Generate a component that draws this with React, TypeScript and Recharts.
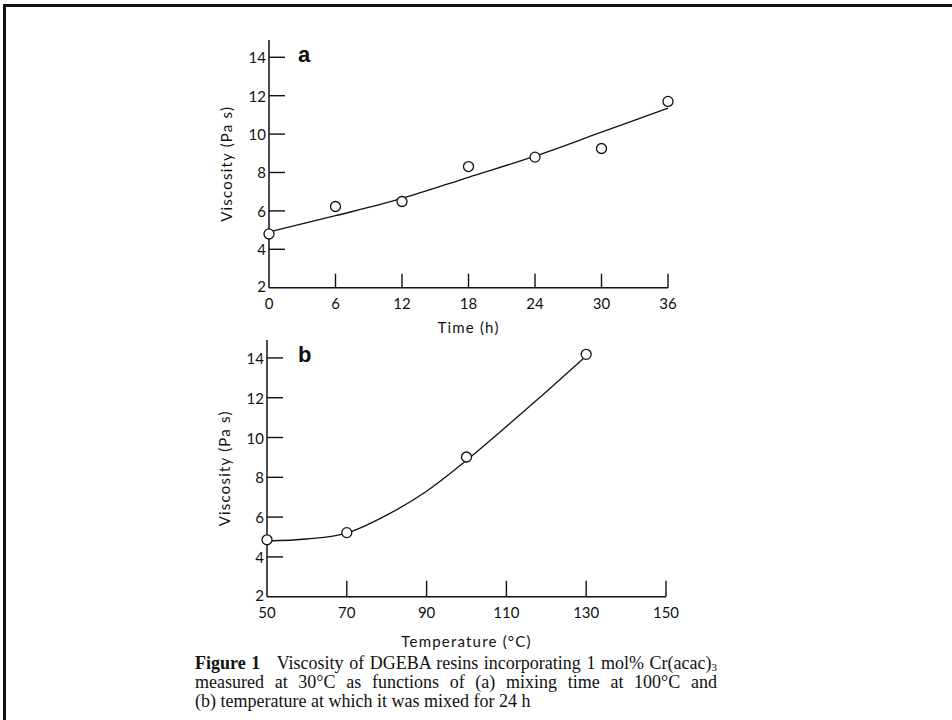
import { ComposedChart, Line, Scatter, XAxis, YAxis, Label } from "recharts";

// panel a: viscosity vs mixing time
const timeH = [0, 6, 12, 18, 24, 30, 36];
const viscTime = [4.8, 6.23, 6.49, 8.31, 8.8, 9.25, 11.7];
const fitTimeH = [0, 6, 12, 18, 24, 30, 36];
const fitTimeVisc = [4.9, 5.75, 6.65, 7.75, 8.85, 10.1, 11.35];
const timeTicks = [0, 6, 12, 18, 24, 30, 36];

// panel b: viscosity vs mixing temperature
const tempC = [50, 70, 100, 130];
const viscTemp = [4.86, 5.22, 9.02, 14.18];
const fitTempC = [50, 60, 70, 80, 90, 100, 110, 120, 130];
const fitTempVisc = [4.8, 4.9, 5.2, 6.1, 7.3, 8.85, 10.55, 12.3, 14.1];
const tempTicks = [50, 70, 90, 110, 130, 150];

const viscTicks = [2, 4, 6, 8, 10, 12, 14];

const FONT = "Lato, 'DejaVu Sans', sans-serif";

const pts = (xs: number[], ys: number[]) => xs.map((x, i) => ({ x, v: ys[i] }));

function YTick(props: any) {
  const { x, y, payload, len } = props;
  const bottom = payload.value === 2;
  return (
    <g>
      <text
        x={x}
        y={bottom ? y - 2 : y}
        textAnchor="end"
        dominantBaseline="central"
        fontSize={15}
        fontFamily={FONT}
        fill="#111"
      >
        {payload.value}
      </text>
      {!bottom && <line x1={x + 3} x2={x + 3 + len} y1={y} y2={y} stroke="#111" strokeWidth={1.4} />}
    </g>
  );
}

function XTick(props: any) {
  const { x, y, payload, len, first } = props;
  return (
    <g>
      {payload.value !== first && (
        <line x1={x} x2={x} y1={y - 15} y2={y - 15 - len} stroke="#111" strokeWidth={1.4} />
      )}
      <text x={x} y={y} textAnchor="middle" dominantBaseline="central" fontSize={15} fontFamily={FONT} fill="#111">
        {payload.value}
      </text>
    </g>
  );
}

const dot = (p: any) => (
  <circle cx={p.cx} cy={p.cy} r={5} fill="#fff" stroke="#111" strokeWidth={1.3} />
);

const labelStyle = { fontSize: 15, fontFamily: FONT, fill: "#111", letterSpacing: 1.2 };

type PanelProps = {
  top: number;
  height: number;
  marginTop: number;
  marginBottom: number;
  xHeight: number;
  left: number;
  right: number;
  domain: [number, number];
  xTicks: number[];
  xLabel: string;
  points: { x: number; v: number }[];
  fit: { x: number; v: number }[];
  tag: string;
  xTickLen: number;
  yTickLen: number;
};

function Panel(p: PanelProps) {
  return (
    <div style={{ position: "absolute", left: 0, top: p.top, width: 952, height: p.height }}>
      <ComposedChart
        width={952}
        height={p.height}
        margin={{ top: p.marginTop, left: p.left - 40, right: 952 - p.right, bottom: p.marginBottom }}
      >
        <XAxis
          dataKey="x"
          type="number"
          domain={p.domain}
          ticks={p.xTicks}
          interval={0}
          height={p.xHeight}
          stroke="#111"
          strokeWidth={1.5}
          tickLine={false}
          tickSize={0}
          tickMargin={15}
          tick={(t: any) => <XTick {...t} len={p.xTickLen} first={p.domain[0]} />}
        >
          <Label value={p.xLabel} position="insideBottom" offset={0} style={labelStyle} />
        </XAxis>
        <YAxis
          dataKey="v"
          type="number"
          domain={[2, 14.9]}
          ticks={viscTicks}
          interval={0}
          width={40}
          stroke="#111"
          strokeWidth={1.5}
          tickLine={false}
          tickSize={0}
          tickMargin={3}
          tick={(t: any) => <YTick {...t} len={p.yTickLen} />}
        >
          <Label
            value="Viscosity (Pa s)"
            angle={-90}
            position="insideLeft"
            offset={-2}
            style={{ ...labelStyle, textAnchor: "middle" }}
          />
        </YAxis>
        <Line
          data={p.fit}
          dataKey="v"
          type="monotone"
          stroke="#111"
          strokeWidth={1.3}
          dot={false}
          activeDot={false}
          isAnimationActive={false}
        />
        <Scatter data={p.points} dataKey="v" shape={dot} isAnimationActive={false} />
      </ComposedChart>
      <div
        style={{
          position: "absolute",
          left: 298,
          top: p.marginTop + 4,
          fontFamily: "'Liberation Sans', Arial, sans-serif",
          fontWeight: 700,
          fontSize: 22,
          lineHeight: "22px",
          color: "#111",
        }}
      >
        {p.tag}
      </div>
    </div>
  );
}

export default function App() {
  const capLine = {
    position: "absolute" as const,
    left: 195,
    width: 522,
    fontFamily: "'Liberation Serif', 'Times New Roman', serif",
    fontSize: 18,
    lineHeight: "19px",
    color: "#111",
    whiteSpace: "nowrap" as const,
  };
  return (
    <div style={{ position: "absolute", left: 0, top: 0, width: 952, height: 720, background: "#fff", overflow: "hidden" }}>
      <div
        style={{
          position: "absolute",
          left: 3,
          top: 4,
          width: 1000,
          height: 800,
          borderLeft: "3px solid #111",
          borderTop: "3px solid #111",
        }}
      />
      <Panel
        top={0}
        height={340}
        marginTop={40}
        marginBottom={340 - 40 - 247.7 - 45}
        xHeight={45}
        left={269}
        right={668}
        domain={[0, 36]}
        xTicks={timeTicks}
        xLabel="Time (h)"
        points={pts(timeH, viscTime)}
        fit={pts(fitTimeH, fitTimeVisc)}
        tag="a"
        xTickLen={14}
        yTickLen={16}
      />
      <Panel
        top={300}
        height={360}
        marginTop={40}
        marginBottom={360 - 40 - 256.7 - 50}
        xHeight={50}
        left={267}
        right={666}
        domain={[50, 150]}
        xTicks={tempTicks}
        xLabel="Temperature (°C)"
        points={pts(tempC, viscTemp)}
        fit={pts(fitTempC, fitTempVisc)}
        tag="b"
        xTickLen={16}
        yTickLen={16}
      />
      <div style={{ ...capLine, top: 654, textAlign: "justify", textAlignLast: "justify" }}>
        <b>Figure 1</b>&nbsp;&nbsp; Viscosity of DGEBA resins incorporating 1 mol% Cr(acac)
        <span style={{ fontSize: 11, position: "relative", top: 2 }}>3</span>
      </div>
      <div style={{ ...capLine, top: 673, textAlign: "justify", textAlignLast: "justify" }}>
        measured at 30°C as functions of (a) mixing time at 100°C and
      </div>
      <div style={{ ...capLine, top: 692 }}>(b) temperature at which it was mixed for 24 h</div>
    </div>
  );
}
